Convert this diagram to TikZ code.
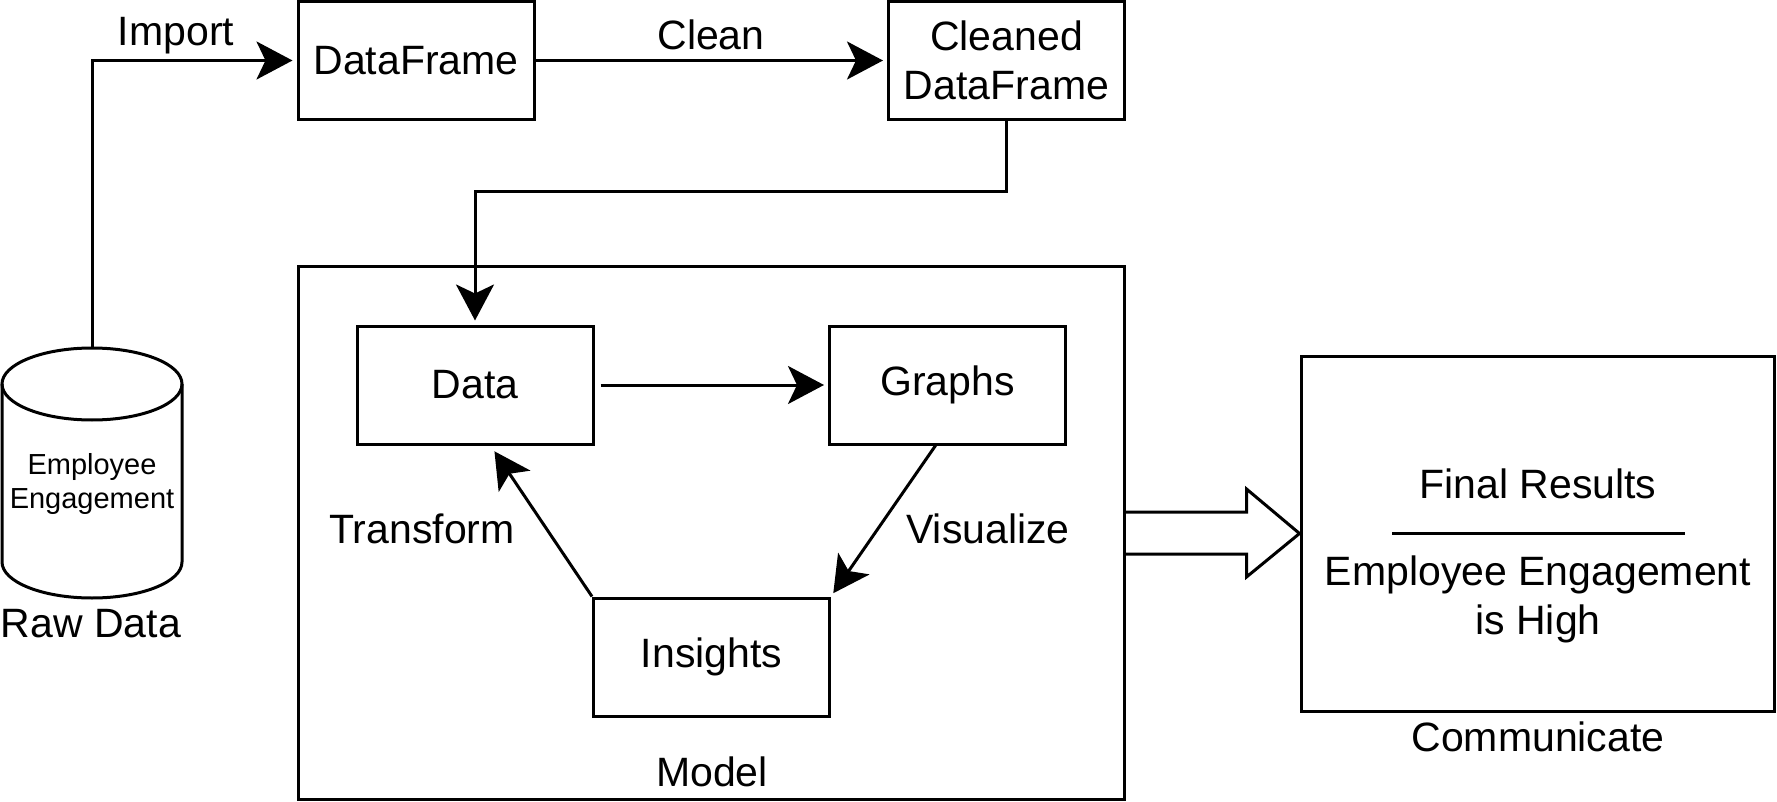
\documentclass[tikz,border=0pt]{standalone}
\usepackage{fontspec}
\setmainfont{Liberation Sans}
\usetikzlibrary{arrows.meta,positioning,calc}

\begin{document}
\begin{tikzpicture}[x=0.5pt,y=-0.5pt,
    box/.style={draw, line width=1.5pt, minimum width=118pt, minimum height=59pt, align=center, font=\fontsize{20.5}{24.5}\selectfont},
    lbl/.style={font=\fontsize{20.5}{24.5}\selectfont, align=center},
    flow/.style={line width=1.5pt, shorten >=2pt, -{Stealth[length=18pt,width=19pt,inset=4.5pt]}}]
    \useasboundingbox (0,0) rectangle (1777,802);

    % Raw data cylinder
    \draw[line width=1.5pt] (92,384) ellipse[x radius=45pt, y radius=18pt];
    \draw[line width=1.5pt] (2,384) -- (2,562) arc[start angle=180, end angle=360, x radius=45pt, y radius=18pt] -- (182,384);
    \coordinate (rawtop) at (92,348);
    \node[font=\fontsize{14.5}{17}\selectfont, align=center] (rawtxt) at (92,484) {Employee\\Engagement};
    \node[lbl] (rawlbl) at (91,624) {Raw Data};

    % Import and clean
    \node[box] (dataframe) at (416,60.5) {DataFrame};
    \node[box] (cleaned) at (1006.5,60.5) {Cleaned\\DataFrame};
    \draw[flow] (rawtop) |- (dataframe.west);
    \node[lbl] (importlbl) at (176,36) {Import};
    \draw[flow] (dataframe) -- (cleaned);
    \node[lbl] (cleanlbl) at (711,35) {Clean};

    % Model loop
    \node[draw, line width=1.5pt, minimum width=413pt, minimum height=266pt] (model) at (711,533) {};
    \node[lbl] (modellbl) at (712,772) {Model};
    \node[box] (data) at (475,385) {Data};
    \node[box] (graphs) at (947.5,385) {Graphs};
    \node[box] (insights) at (711.5,657) {Insights};
    \draw[flow] (cleaned.south) -- ++(0,71) -| (data.north);
    \draw[flow, shorten <=3pt] (data) -- (graphs);
    \draw[flow] ($(graphs.south west)!0.45!(graphs.south east)$) -- (insights.north east);
    \draw[flow, shorten >=3.5pt] (insights.north west) -- ($(data.south west)!0.565!(data.south east)$);
    \node[lbl] (transformlbl) at (422,529) {Transform};
    \node[lbl] (visualizelbl) at (988,529) {Visualize};

    % Communicate
    \node[draw, line width=1.5pt, minimum width=236.5pt, minimum height=177.5pt] (final) at (1537.5,533.5) {};
    \node[lbl] (finaltitle) at (1538,484) {Final Results};
    \draw[line width=1.5pt] (1392,533) -- (1685,533);
    \node[lbl] (finaltext) at (1538,599) {Employee Engagement\\is High};
    \node[lbl] (commlbl) at (1538,737) {Communicate};

    % Block arrow
    \draw[line width=1.5pt] ($(model.east)+(0,-21)$) -- ++(121,0) -- ++(0,-23) -- (final.west)
      -- ($(model.east)+(121,44)$) -- ++(0,-23) -- ($(model.east)+(0,21)$);
\end{tikzpicture}
\end{document}
